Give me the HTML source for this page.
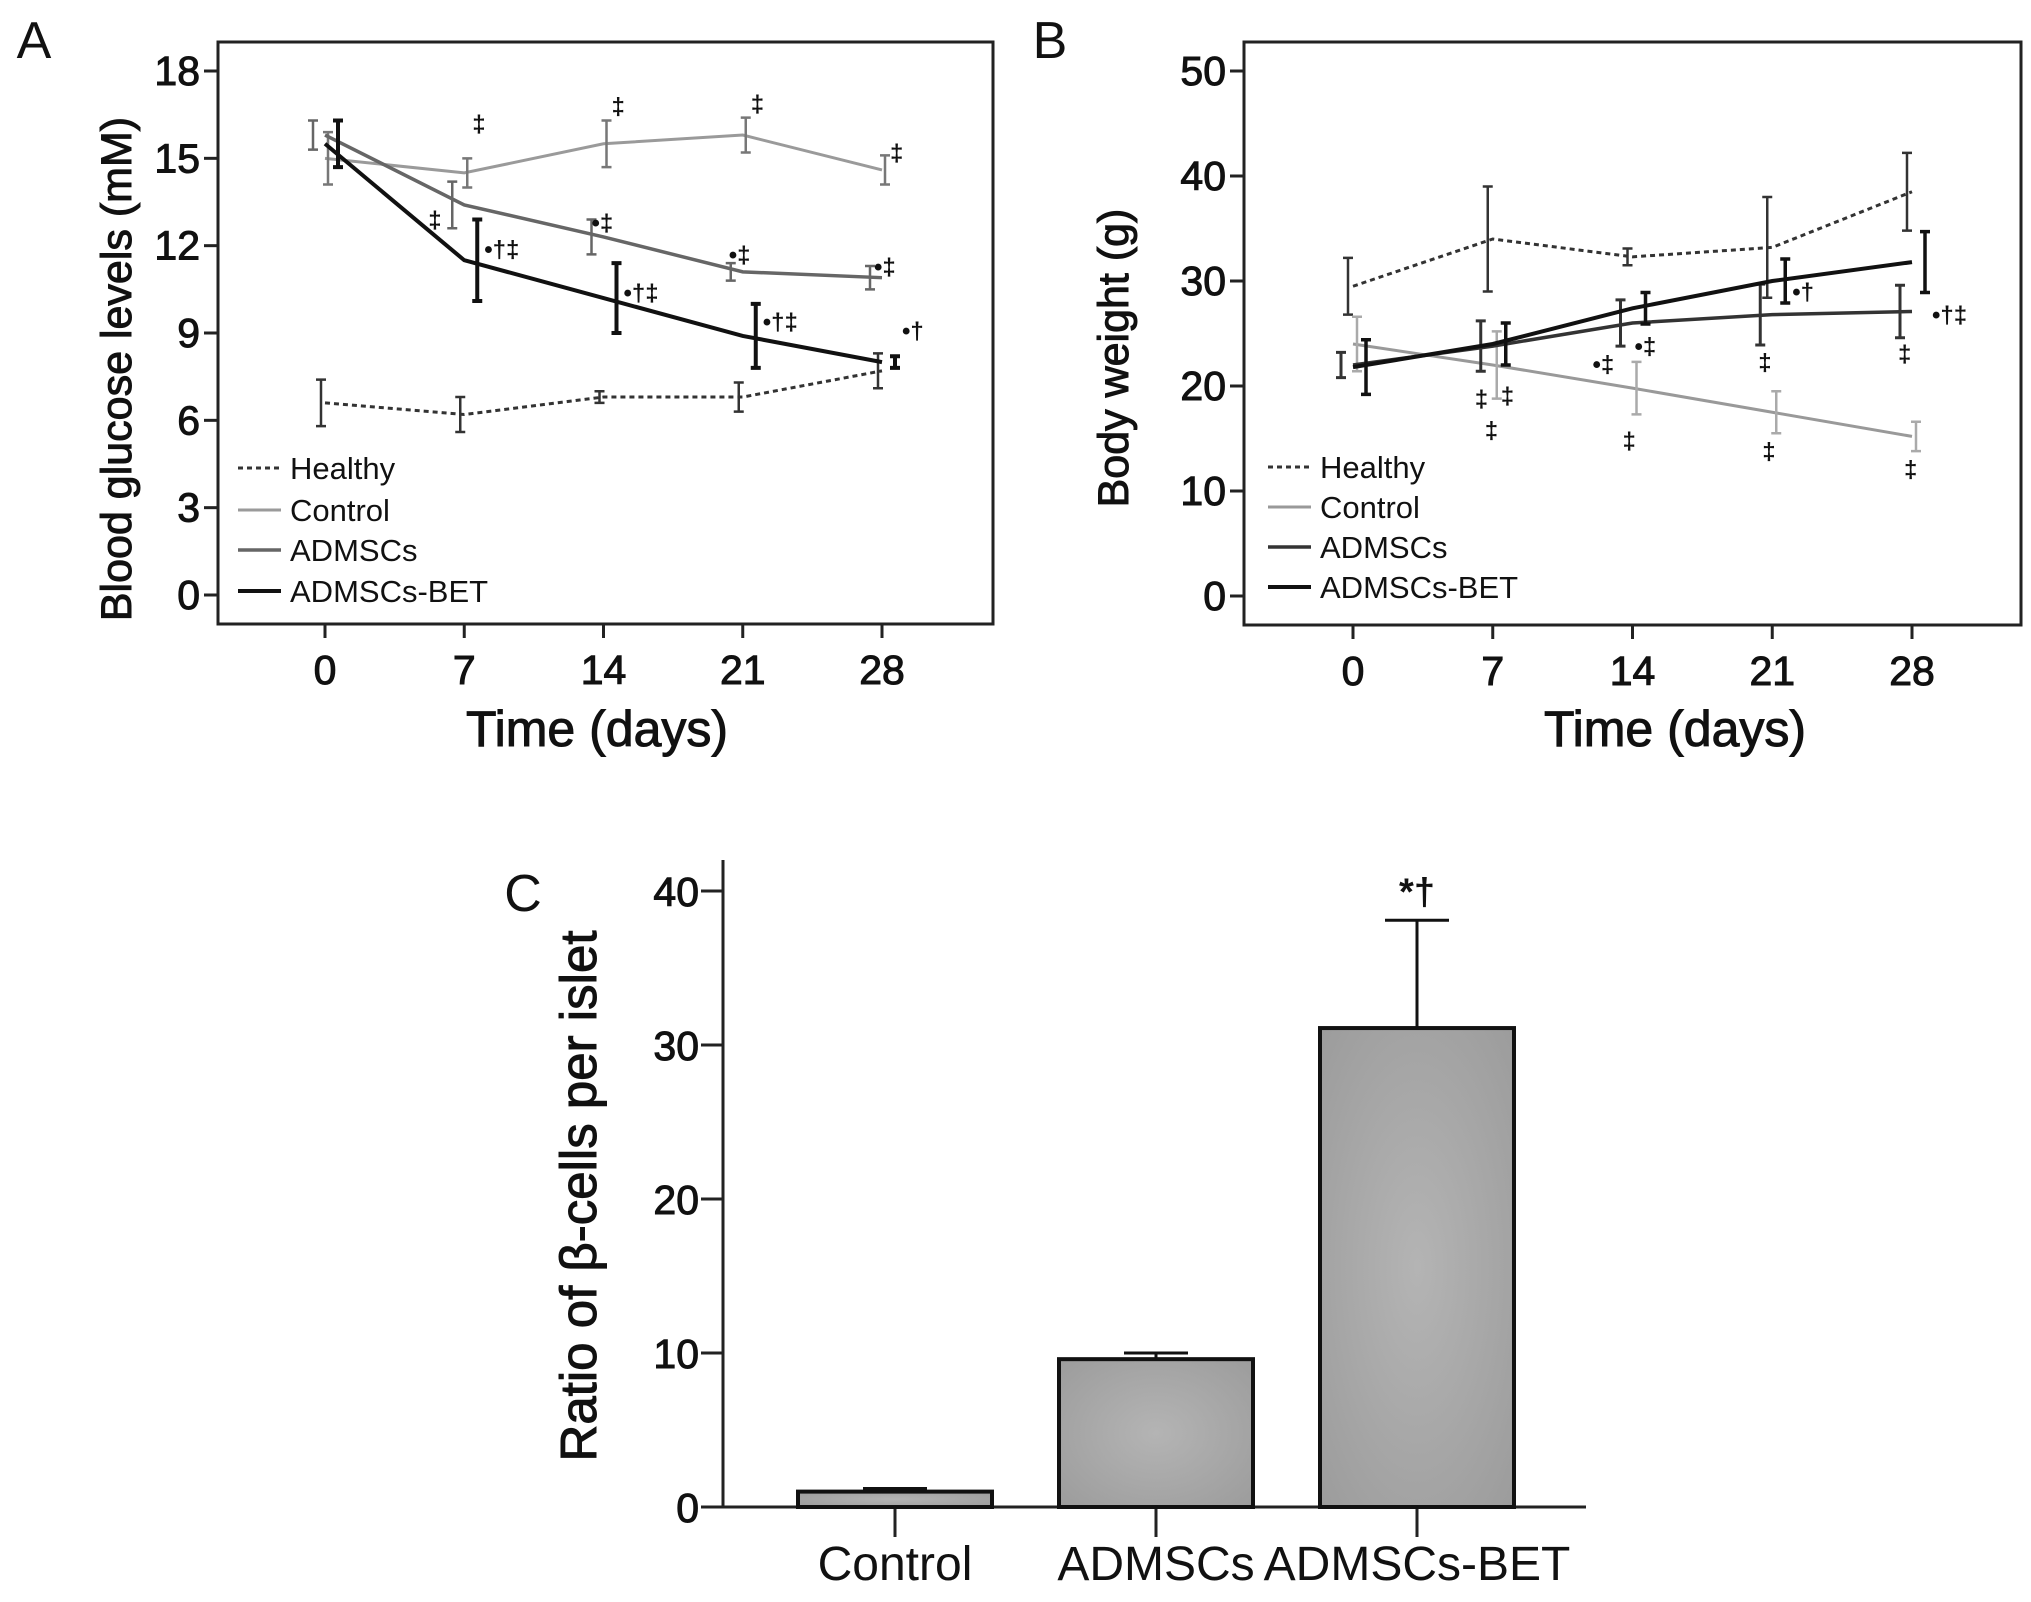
<!DOCTYPE html>
<html><head><meta charset="utf-8"><style>
html,body{margin:0;padding:0;background:#fff;overflow:hidden;}
svg{display:block;font-family:"Liberation Sans",Arial,sans-serif;}
</style></head><body>
<svg id="fig" width="2031" height="1602" viewBox="0 0 2031 1602" xmlns="http://www.w3.org/2000/svg"></svg>
<script>
// ---- Panel A data ----
const daysA = [0, 7, 14, 21, 28];
const seriesNames = ["Healthy", "Control", "ADMSCs", "ADMSCs-BET"];
const glucoseHealthy = [6.6, 6.2, 6.8, 6.8, 7.7];
const glucoseHealthyErr = [0.8, 0.6, 0.2, 0.5, 0.6];
const glucoseControl = [15.0, 14.5, 15.5, 15.8, 14.6];
const glucoseControlErr = [0.9, 0.5, 0.8, 0.6, 0.5];
const glucoseADMSC = [15.8, 13.4, 12.3, 11.1, 10.9];
const glucoseADMSCErr = [0.5, 0.8, 0.6, 0.3, 0.4];
const glucoseBET = [15.5, 11.5, 10.2, 8.9, 8.0];
const glucoseBETErr = [0.8, 1.4, 1.2, 1.1, 0.2];
const ticksA = [0, 3, 6, 9, 12, 15, 18];
// ---- Panel B data ----
const weightHealthy = [29.5, 34.0, 32.3, 33.2, 38.5];
const weightHealthyErr = [2.7, 5.0, 0.8, 4.8, 3.7];
const weightControl = [24.0, 22.0, 19.8, 17.5, 15.2];
const weightControlErr = [2.6, 3.2, 2.5, 2.0, 1.4];
const weightADMSC = [22.0, 23.8, 26.0, 26.8, 27.1];
const weightADMSCErr = [1.2, 2.4, 2.2, 2.9, 2.5];
const weightBET = [21.8, 24.0, 27.4, 30.0, 31.8];
const weightBETErr = [2.6, 2.0, 1.5, 2.1, 2.9];
const ticksB = [0, 10, 20, 30, 40, 50];
// ---- Panel C data ----
const groupsC = ["Control", "ADMSCs", "ADMSCs-BET"];
const ratioValues = [1.0, 9.6, 31.1];
const ratioErr = [0.2, 0.4, 7.0];
const ticksC = [0, 10, 20, 30, 40];

const NS = "http://www.w3.org/2000/svg";
const svg = document.getElementById("fig");
function el(tag, attrs, parent, text) {
  const e = document.createElementNS(NS, tag);
  for (const k in attrs) e.setAttribute(k, attrs[k]);
  if (text !== undefined) e.textContent = text;
  (parent || svg).appendChild(e);
  return e;
}
function label(parent, x, y, txt, size, anchor, name, extra) {
  const t = el("text", Object.assign({x: x, y: y, "font-size": size, "text-anchor": anchor || "middle", fill: "#111"}, extra || {}), parent, txt);
  
  
  return t;
}
const heavy = {stroke: "#111", "stroke-width": 1};

function linePanel(cfg) {
  const g = el("g", {});
  
  
  const xs = d => cfg.x0 + d * (cfg.x28 - cfg.x0) / 28;
  const ys = v => cfg.yBot + (v - cfg.ticks[0]) * (cfg.yTop - cfg.yBot) / (cfg.ticks[cfg.ticks.length - 1] - cfg.ticks[0]);
  const frame = el("rect", {x: cfg.fx, y: cfg.fy, width: cfg.fw, height: cfg.fh, fill: "none", stroke: "#222", "stroke-width": 3}, g);
  
  
  cfg.ticks.forEach(t => {
    const tk = el("line", {x1: cfg.fx - 14, x2: cfg.fx, y1: ys(t), y2: ys(t), stroke: "#222", "stroke-width": 3}, g);
    
    
    label(g, cfg.fx - 18, ys(t) + 14, String(t), 41, "end", "y-tick-label", heavy);
  });
  daysA.forEach(d => {
    const tk = el("line", {x1: xs(d), x2: xs(d), y1: cfg.fy + cfg.fh, y2: cfg.fy + cfg.fh + 14, stroke: "#222", "stroke-width": 3}, g);
    
    
    label(g, xs(d), cfg.fy + cfg.fh + 60, String(d), 41, "middle", "x-tick-label", heavy);
  });
  label(g, cfg.xTitleX, 746, "Time (days)", 50, "middle", "x-axis-title", heavy);
  label(g, 0, 0, cfg.yTitle, cfg.yTitleSize, "middle", "y-axis-title", Object.assign({transform: "translate(" + cfg.yTitleX + "," + cfg.yTitleY + ") rotate(-90)"}, heavy));
  label(g, cfg.letterX, 58, cfg.letter, 52, "middle", "panel-letter");
  cfg.series.forEach(s => {
    const sg = el("g", {}, g);
    
    
    const pts = daysA.map((d, i) => xs(d) + "," + ys(s.vals[i])).join(" ");
    const pl = el("polyline", {points: pts, fill: "none", stroke: s.color, "stroke-width": s.w, "stroke-dasharray": s.dash || "none"}, sg);
    
    
    daysA.forEach((d, i) => {
      const x = xs(d) + s.off, y1 = ys(s.vals[i] - s.err[i]), y2 = ys(s.vals[i] + s.err[i]);
      const eb = el("path", {d: "M" + x + "," + y1 + "V" + y2 + "M" + (x - 5) + "," + y1 + "H" + (x + 5) + "M" + (x - 5) + "," + y2 + "H" + (x + 5), stroke: s.ebColor || s.color, "stroke-width": s.ew, fill: "none"}, sg);
      
      
    });
  });
  cfg.annots.forEach(a => {
    label(g, xs(a[0]) + a[2], ys(a[1]), a[3], 24, "start", "significance-mark", {"font-weight": "bold"});
  });
  const lg = el("g", {}, g);
  
  
  cfg.series.forEach((s, i) => {
    const y = cfg.legY[i];
    const ln = el("line", {x1: cfg.legX, x2: cfg.legX + 43, y1: y, y2: y, stroke: s.color, "stroke-width": s.w, "stroke-dasharray": s.dash || "none"}, lg);
    
    
    label(lg, cfg.legX + 52, y + 11, seriesNames[i], 31, "start", "legend-entry-" + s.key);
  });
}

linePanel({
  name: "panel-a-blood-glucose", letter: "A", letterX: 34,
  fx: 218, fy: 42, fw: 775, fh: 582, x0: 325, x28: 882, yBot: 595, yTop: 71, ticks: ticksA,
  yTitle: "Blood glucose levels (mM)", yTitleSize: 43, yTitleX: 131, yTitleY: 369, xTitleX: 597,
  legX: 238, legY: [468, 510, 550, 591],
  series: [
    {key: "healthy", vals: glucoseHealthy, err: glucoseHealthyErr, color: "#333", w: 3, dash: "5,4", off: -4, ew: 2.5},
    {key: "control", vals: glucoseControl, err: glucoseControlErr, color: "#9a9a9a", w: 3, off: 3, ew: 2.5, ebColor: "#777"},
    {key: "admscs", vals: glucoseADMSC, err: glucoseADMSCErr, color: "#666", w: 3.5, off: -12, ew: 2.5},
    {key: "admscs-bet", vals: glucoseBET, err: glucoseBETErr, color: "#111", w: 4, off: 13, ew: 4}
  ],
  annots: [[7, 15.9, 8, "‡"], [14, 16.5, 8, "‡"], [21, 16.6, 8, "‡"], [28, 14.9, 8, "‡"],
    [7, 12.6, -36, "‡"], [14, 12.5, -12, "•‡"], [21, 11.4, -14, "•‡"], [28, 11.0, -8, "•‡"],
    [7, 11.6, 20, "•†‡"], [14, 10.1, 20, "•†‡"], [21, 9.1, 20, "•†‡"], [28, 8.8, 20, "•†"]]
});

linePanel({
  name: "panel-b-body-weight", letter: "B", letterX: 1050,
  fx: 1244, fy: 42, fw: 777, fh: 583, x0: 1353, x28: 1912, yBot: 596, yTop: 71, ticks: ticksB,
  yTitle: "Body weight (g)", yTitleSize: 43, yTitleX: 1128, yTitleY: 358, xTitleX: 1675,
  legX: 1268, legY: [467, 507, 547, 587],
  series: [
    {key: "healthy", vals: weightHealthy, err: weightHealthyErr, color: "#333", w: 3, dash: "5,4", off: -5, ew: 2.5},
    {key: "control", vals: weightControl, err: weightControlErr, color: "#999", w: 3, off: 4, ew: 2.5, ebColor: "#aaa"},
    {key: "admscs", vals: weightADMSC, err: weightADMSCErr, color: "#333", w: 3.5, off: -12, ew: 3},
    {key: "admscs-bet", vals: weightBET, err: weightBETErr, color: "#111", w: 4, off: 13, ew: 3.5}
  ],
  annots: [[7, 18.0, -18, "‡"], [7, 18.3, 8, "‡"], [7, 15.0, -8, "‡"], [14, 14.0, -10, "‡"], [21, 13.0, -10, "‡"], [28, 11.3, -8, "‡"],
    [14, 21.3, -40, "•‡"], [14, 23.0, 2, "•‡"], [21, 21.5, -14, "‡"], [28, 22.3, -14, "‡"],
    [21, 28.2, 20, "•†"], [28, 26.0, 20, "•†‡"]]
});

// ---- Panel C ----
(function () {
  const g = el("g", {});
  
  
  const axX = 723, yBot = 1507, yTop = 891;
  const ys = v => yBot + v * (yTop - yBot) / 40;
  const xc = i => 895 + i * 261;
  const bw = 194;
  const defs = el("defs", {}, g);
  const rg = el("radialGradient", {id: "barGrad", cx: "0.5", cy: "0.5", r: "0.7"}, defs);
  el("stop", {offset: "0", "stop-color": "#b4b4b4"}, rg);
  el("stop", {offset: "1", "stop-color": "#9c9c9c"}, rg);
  label(g, 523, 911, "C", 52, "middle", "panel-letter");
  const ya = el("line", {x1: axX, x2: axX, y1: 860, y2: yBot, stroke: "#222", "stroke-width": 3}, g);
  
  
  const xa = el("line", {x1: axX, x2: 1586, y1: yBot, y2: yBot, stroke: "#222", "stroke-width": 3}, g);
  
  
  ticksC.forEach(t => {
    const tk = el("line", {x1: axX - 22, x2: axX, y1: ys(t), y2: ys(t), stroke: "#222", "stroke-width": 3}, g);
    
    
    label(g, axX - 24, ys(t) + 15, String(t), 41, "end", "y-tick-label", heavy);
  });
  label(g, 0, 0, "Ratio of β-cells per islet", 51, "middle", "y-axis-title", Object.assign({transform: "translate(596,1196) rotate(-90)"}, heavy));
  groupsC.forEach((c, i) => {
    const x = xc(i);
    const tk = el("line", {x1: x, x2: x, y1: yBot, y2: yBot + 30, stroke: "#222", "stroke-width": 3}, g);
    
    
    label(g, x, 1580, c, 48, "middle", "x-tick-label");
    const top = ys(ratioValues[i] + ratioErr[i]);
    const eb = el("path", {d: "M" + x + "," + ys(ratioValues[i]) + "V" + top + "M" + (x - 32) + "," + top + "H" + (x + 32), stroke: "#111", "stroke-width": 3, fill: "none"}, g);
    
    
    const b = el("rect", {x: x - bw / 2, y: ys(ratioValues[i]), width: bw, height: yBot - ys(ratioValues[i]), fill: "url(#barGrad)", stroke: "#111", "stroke-width": 4}, g);
    
    
  });
  label(g, xc(2), ys(ratioValues[2] + ratioErr[2]) - 16, "*†", 38, "middle", "significance-mark", {"font-weight": "bold"});
})();
</script>
</body></html>
